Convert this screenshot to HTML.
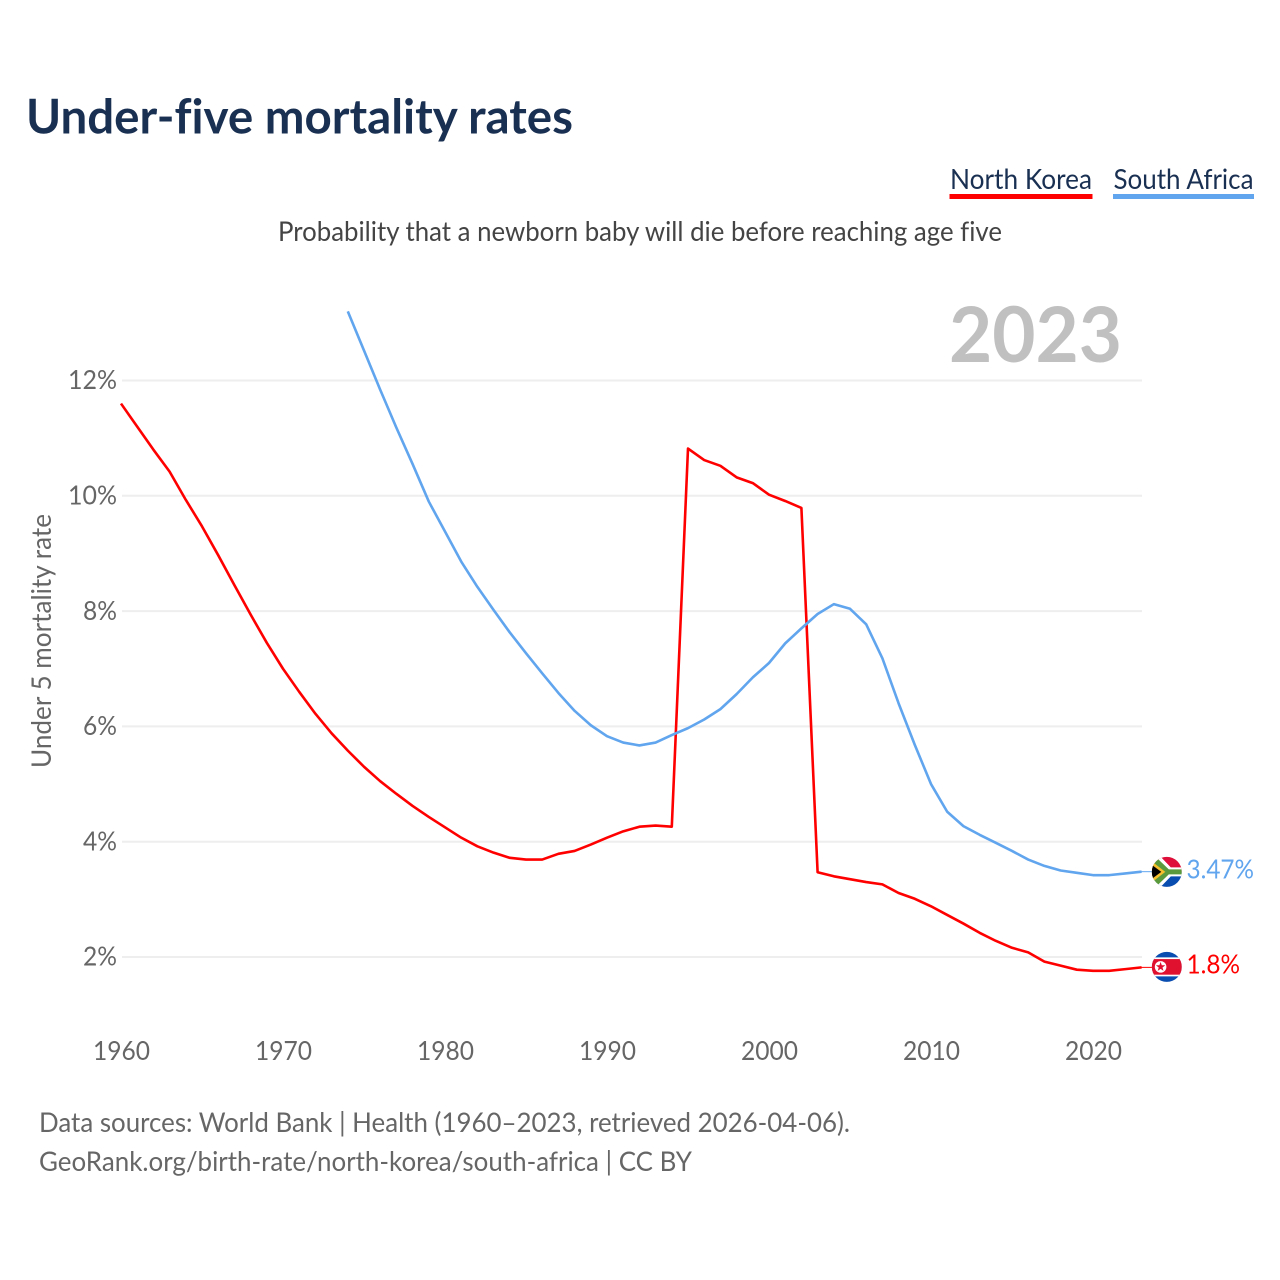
<!DOCTYPE html>
<html lang="en">
<head>
<meta charset="utf-8">
<title>Under-five mortality rates</title>
<style>
html,body{margin:0;padding:0;background:#fff;width:1280px;height:1280px;overflow:hidden}
svg{display:block}
text{font-family:"Lato","Carlito","Liberation Sans",sans-serif;font-variant-ligatures:none;font-feature-settings:"liga" 0}
</style>
</head>
<body>
<svg id="chart" xmlns="http://www.w3.org/2000/svg" width="1280" height="1280" viewBox="0 0 1280 1280">
  <defs>
    <clipPath id="flag-clip"><circle cx="0" cy="0" r="15"></circle></clipPath>
  </defs>
  <text x="26" y="133.5" font-size="48" font-weight="700" fill="#1a3052" textLength="547" lengthAdjust="spacingAndGlyphs">Under-five mortality rates</text>

  <g>
    <text x="950" y="189" font-size="28.5" fill="#1a3052" textLength="142" lengthAdjust="spacingAndGlyphs">North Korea</text>
    <rect x="949.5" y="194" width="143" height="5" fill="#ff0000"></rect>
  </g>
  <g>
    <text x="1113.5" y="189" font-size="28.5" fill="#1a3052" textLength="140" lengthAdjust="spacingAndGlyphs">South Africa</text>
    <rect x="1113" y="194" width="141" height="5" fill="#60a5ee"></rect>
  </g>

  <text x="278" y="241" font-size="27.5" fill="#444444" textLength="724" lengthAdjust="spacingAndGlyphs">Probability that a newborn baby will die before reaching age five</text>

  <g id="grid"></g>
  <g id="y-ticks"></g>
  <g id="x-ticks"></g>

  <text x="949" y="362" font-size="77" font-weight="700" fill="#c0c0c0" textLength="173" lengthAdjust="spacingAndGlyphs">2023</text>

  <text transform="translate(51 768) rotate(-90)" x="0" y="0" font-size="27.5" fill="#666666" textLength="254" lengthAdjust="spacingAndGlyphs">Under 5 mortality rate</text>

  <g id="series"></g>

  <g id="flag-south-africa">
    <g clip-path="url(#flag-clip)">
      <rect x="-15" y="-16" width="30" height="16" fill="#de0f3a"></rect>
      <rect x="-15" y="0" width="30" height="16" fill="#0a4db0"></rect>
      <polygon points="-15,-16 -7,-16 4,-4.5 15,-4.5 15,4.5 4,4.5 -7,16 -15,16" fill="#ffffff"></polygon>
      <polygon points="-15,-14 -10,-14 2,-2.5 15,-2.5 15,2.5 2,2.5 -10,14 -15,14" fill="#5a9a3c"></polygon>
      <polygon points="-15,-10.5 -1.5,0 -15,10.5" fill="#f5c02c"></polygon>
      <polygon points="-15,-7 -5.5,0 -15,7" fill="#000000"></polygon>
    </g>
  </g>
  <g id="flag-north-korea">
    <g clip-path="url(#flag-clip)">
      <rect x="-15" y="-16" width="30" height="32" fill="#0a4db0"></rect>
      <rect x="-15" y="-9.5" width="30" height="19" fill="#ffffff"></rect>
      <rect x="-15" y="-7.8" width="30" height="15.6" fill="#e0102f"></rect>
      <circle cx="-6.2" cy="0" r="5.8" fill="#ffffff"></circle>
      <polygon points="-6.2,-5 -5,-1.6 -1.5,-1.6 -4.3,0.6 -3.3,4 -6.2,2 -9.1,4 -8.1,0.6 -10.9,-1.6 -7.4,-1.6" fill="#e0102f"></polygon>
    </g>
  </g>

  <text id="end-south-africa" x="1186.5" font-size="26.5" fill="#60a5ee" textLength="67.5" lengthAdjust="spacingAndGlyphs"></text>
  <text id="end-north-korea" x="1186.5" font-size="26.5" fill="#ff0000" textLength="53.5" lengthAdjust="spacingAndGlyphs"></text>

  <text x="39" y="1132" font-size="27.5" fill="#666666" textLength="811" lengthAdjust="spacingAndGlyphs">Data sources: World Bank | Health (1960–2023, retrieved 2026-04-06).</text>
  <text x="39" y="1171" font-size="27.5" fill="#666666" textLength="653" lengthAdjust="spacingAndGlyphs">GeoRank.org/birth-rate/north-korea/south-africa | CC BY</text>
</svg>

<script>
const yTickValues = [2, 4, 6, 8, 10, 12];
const yTickLabels = ["2%", "4%", "6%", "8%", "10%", "12%"];
const xTickValues = [1960, 1970, 1980, 1990, 2000, 2010, 2020];
const xTickLabels = ["1960", "1970", "1980", "1990", "2000", "2010", "2020"];

const northKoreaStartYear = 1960;
const northKoreaValues = [
  11.6, 11.2, 10.8, 10.42, 9.93, 9.47, 8.97, 8.45, 7.94, 7.45,
  7.0, 6.6, 6.22, 5.88, 5.58, 5.3, 5.05, 4.83, 4.62, 4.43,
  4.25, 4.07, 3.92, 3.81, 3.72, 3.69, 3.69, 3.79, 3.84, 3.95,
  4.07, 4.18, 4.26, 4.28, 4.26, 10.82, 10.62, 10.52, 10.32, 10.22,
  10.02, 9.91, 9.79, 3.47, 3.40, 3.35, 3.30, 3.26, 3.11, 3.01,
  2.88, 2.73, 2.58, 2.42, 2.28, 2.16, 2.08, 1.92, 1.85, 1.78,
  1.76, 1.76, 1.79, 1.82
];

const southAfricaStartYear = 1974;
const southAfricaValues = [
  13.2, 12.52, 11.84, 11.18, 10.55, 9.9,
  9.38, 8.86, 8.42, 8.02, 7.63, 7.27, 6.92, 6.58, 6.27, 6.02,
  5.83, 5.72, 5.67, 5.72, 5.85, 5.97, 6.12, 6.3, 6.56, 6.85,
  7.1, 7.44, 7.7, 7.95, 8.12, 8.04, 7.77, 7.18, 6.4, 5.68,
  5.0, 4.52, 4.27, 4.12, 3.98, 3.84, 3.69, 3.58, 3.5, 3.46,
  3.42, 3.42, 3.45, 3.48
];

const southAfricaEndLabel = "3.47%";
const northKoreaEndLabel = "1.8%";

const SVG_NS = "http://www.w3.org/2000/svg";

function xScale(year) {
  return 121 + (year - 1960) * 16.2;
}

function yScale(value) {
  return 957 - (value - 2) * 57.65;
}

function linePoints(values, startYear) {
  return values.map(function (v, i) {
    return xScale(startYear + i).toFixed(2) + "," + yScale(v).toFixed(2);
  }).join(" ");
}

const gridLayer = document.getElementById("grid");
const yTickLayer = document.getElementById("y-ticks");
const xTickLayer = document.getElementById("x-ticks");
const seriesLayer = document.getElementById("series");

yTickValues.forEach(function (v, i) {
  const line = document.createElementNS(SVG_NS, "line");
  
  
  line.setAttribute("x1", 122);
  line.setAttribute("x2", 1142);
  line.setAttribute("y1", yScale(v));
  line.setAttribute("y2", yScale(v));
  line.setAttribute("stroke", "#eeeeee");
  line.setAttribute("stroke-width", "2");
  gridLayer.appendChild(line);

  const label = document.createElementNS(SVG_NS, "text");
  
  
  label.setAttribute("x", 117);
  label.setAttribute("y", yScale(v) + 8.7);
  label.setAttribute("text-anchor", "end");
  label.setAttribute("font-size", "26.5");
  label.setAttribute("fill", "#666666");
  label.setAttribute("textLength", yTickLabels[i].length === 3 ? "49" : "34");
  label.setAttribute("lengthAdjust", "spacingAndGlyphs");
  label.textContent = yTickLabels[i];
  yTickLayer.appendChild(label);
});

xTickValues.forEach(function (year, i) {
  const label = document.createElementNS(SVG_NS, "text");
  
  
  label.setAttribute("x", xScale(year) + 0.5);
  label.setAttribute("y", 1060);
  label.setAttribute("text-anchor", "middle");
  label.setAttribute("font-size", "26.5");
  label.setAttribute("fill", "#666666");
  label.setAttribute("textLength", "57");
  label.setAttribute("lengthAdjust", "spacingAndGlyphs");
  label.textContent = xTickLabels[i];
  xTickLayer.appendChild(label);
});

const northKoreaLine = document.createElementNS(SVG_NS, "polyline");


northKoreaLine.setAttribute("points", linePoints(northKoreaValues, northKoreaStartYear));
northKoreaLine.setAttribute("fill", "none");
northKoreaLine.setAttribute("stroke", "#ff0000");
northKoreaLine.setAttribute("stroke-width", "2.6");
northKoreaLine.setAttribute("stroke-linejoin", "round");
seriesLayer.appendChild(northKoreaLine);

const southAfricaLine = document.createElementNS(SVG_NS, "polyline");


southAfricaLine.setAttribute("points", linePoints(southAfricaValues, southAfricaStartYear));
southAfricaLine.setAttribute("fill", "none");
southAfricaLine.setAttribute("stroke", "#60a5ee");
southAfricaLine.setAttribute("stroke-width", "2.6");
southAfricaLine.setAttribute("stroke-linejoin", "round");
seriesLayer.appendChild(southAfricaLine);

const lastNorthKorea = yScale(northKoreaValues[northKoreaValues.length - 1]);
const lastSouthAfrica = yScale(southAfricaValues[southAfricaValues.length - 1]);

const northKoreaLeader = document.createElementNS(SVG_NS, "line");


northKoreaLeader.setAttribute("x1", 1141);
northKoreaLeader.setAttribute("x2", 1154);
northKoreaLeader.setAttribute("y1", lastNorthKorea);
northKoreaLeader.setAttribute("y2", lastNorthKorea);
northKoreaLeader.setAttribute("stroke", "#ff0000");
northKoreaLeader.setAttribute("stroke-width", "1");
seriesLayer.appendChild(northKoreaLeader);

const southAfricaLeader = document.createElementNS(SVG_NS, "line");


southAfricaLeader.setAttribute("x1", 1141);
southAfricaLeader.setAttribute("x2", 1154);
southAfricaLeader.setAttribute("y1", lastSouthAfrica);
southAfricaLeader.setAttribute("y2", lastSouthAfrica);
southAfricaLeader.setAttribute("stroke", "#60a5ee");
southAfricaLeader.setAttribute("stroke-width", "1");
seriesLayer.appendChild(southAfricaLeader);

document.getElementById("flag-south-africa").setAttribute("transform", "translate(1166.8 " + (lastSouthAfrica + 0.2) + ")");
document.getElementById("flag-north-korea").setAttribute("transform", "translate(1166.8 " + (lastNorthKorea - 0.5) + ")");

const endSouthAfrica = document.getElementById("end-south-africa");
endSouthAfrica.setAttribute("y", lastSouthAfrica + 6.8);
endSouthAfrica.textContent = southAfricaEndLabel;

const endNorthKorea = document.getElementById("end-north-korea");
endNorthKorea.setAttribute("y", lastNorthKorea + 6.3);
endNorthKorea.textContent = northKoreaEndLabel;
</script>
</body>
</html>
